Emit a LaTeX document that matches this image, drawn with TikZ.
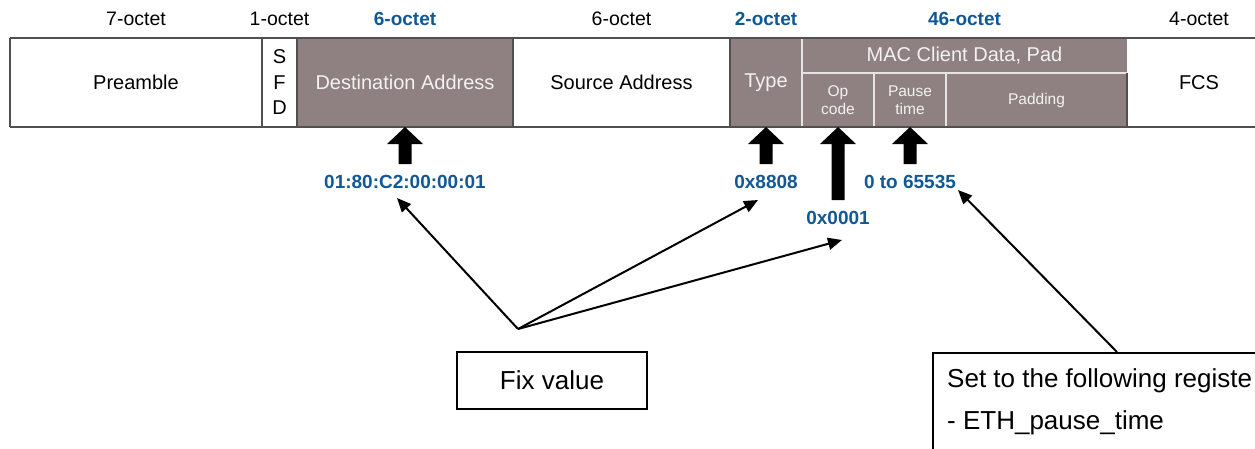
\documentclass[tikz,border=0pt]{standalone}
\usepackage{fontspec}
\setmainfont{Liberation Sans}
\usetikzlibrary{arrows.meta,calc}
\definecolor{pduBrown}{RGB}{143,129,129}
\definecolor{valBlue}{RGB}{17,88,150}
\definecolor{ruleGray}{RGB}{80,80,80}
\definecolor{innerLine}{RGB}{228,228,228}

\begin{document}
\begin{tikzpicture}[x=1pt,y=-1pt,
  cell/.style={inner sep=0pt, outer sep=0pt, anchor=north west,
    font=\fontsize{20}{24}\selectfont, align=center},
  white cell/.style={cell, fill=white},
  brown cell/.style={cell, fill=pduBrown, text=white!95!black},
  small cell/.style={brown cell, font=\fontsize{15.5}{18}\selectfont},
  octet/.style={font=\fontsize{19.5}{23}\selectfont, inner sep=0pt},
  octet hi/.style={font=\bfseries\fontsize{19}{23}\selectfont, text=valBlue, inner sep=0pt},
  val/.style={font=\bfseries\fontsize{19}{23}\selectfont, text=valBlue, inner sep=0pt},
  frame/.style={draw=ruleGray, line width=1.3pt},
  sep/.style={draw=ruleGray, line width=1.1pt},
  divider/.style={draw=innerLine, line width=1.3pt},
  ptr/.style={draw=black, line width=2pt, -{Triangle[length=14pt,width=12pt]}},
  callout/.style={draw=black, line width=1.5pt, fill=white, inner sep=0pt},
  notetext/.style={anchor=base west, inner sep=0pt, font=\fontsize{26}{30}\selectfont},
  pics/blockup/.style={code={
    \fill[black] (0,0) -- (18,17) -- (6.5,17) -- (6.5,#1) -- (-6.5,#1)
      -- (-6.5,17) -- (-18,17) -- cycle;}}
]
\useasboundingbox (0,0) rectangle (1255,448);
\clip (0,0) rectangle (1255,448);

% frame fields
\node[white cell, minimum width=252pt, minimum height=89pt] (pre) at (10,38) {Preamble};
\node[white cell, minimum width=35pt, minimum height=89pt,
  font=\fontsize{20}{25.5}\selectfont] (sfd) at (262,38) {S\\F\\D};
\node[brown cell, minimum width=216pt, minimum height=89pt] (dst) at (297,38) {Destination Address};
\node[white cell, minimum width=217pt, minimum height=89pt] (src) at (513,38) {Source Address};
\node[brown cell, minimum width=72pt, minimum height=89pt] (typ) at (730,38) {Type};
\node[brown cell, minimum width=325pt, minimum height=35pt] (mac) at (802,38) {MAC Client Data, Pad};
\node[small cell, minimum width=72pt, minimum height=54pt] (op) at (802,73) {Op\\code};
\node[small cell, minimum width=72pt, minimum height=54pt] (pause) at (874,73) {Pause\\time};
\node[small cell, minimum width=181pt, minimum height=54pt] (pad) at (946,73) {Padding};
\node[white cell, minimum width=144pt, minimum height=89pt] (fcs) at (1127,38) {FCS};

% light separators inside the MAC client data area
\draw[divider] (typ.north east) -- (typ.south east);
\draw[divider] (mac.south west) -- (mac.south east);
\draw[divider] (op.north east) -- (op.south east);
\draw[divider] (pause.north east) -- (pause.south east);

% outer rules and field borders
\draw[frame] (pre.north west) -- (fcs.north east);
\draw[frame] (pre.south west) -- (fcs.south east);
\draw[sep] (pre.north west) -- (pre.south west);
\draw[sep] (pre.north east) -- (pre.south east);
\draw[sep] (sfd.north east) -- (sfd.south east);
\draw[sep] (dst.north east) -- (dst.south east);
\draw[sep] (src.north east) -- (src.south east);
\draw[sep] (pad.north east) -- (pad.south east);

% field sizes
\node[octet]    (o1) at (pre.north |- 0,19) {7-octet};
\node[octet]    (o2) at (sfd.north |- 0,19) {1-octet};
\node[octet hi] (o3) at (dst.north |- 0,19) {6-octet};
\node[octet]    (o4) at (src.north |- 0,19) {6-octet};
\node[octet hi] (o5) at (typ.north |- 0,19) {2-octet};
\node[octet hi] (o6) at (mac.north |- 0,19) {46-octet};
\node[octet]    (o7) at (fcs.north |- 0,19) {4-octet};

% block arrows and field values
\pic at (dst.south) {blockup=37};
\pic at (typ.south) {blockup=37};
\pic at (op.south) {blockup=73};
\pic at (pause.south) {blockup=37};
\node[val] (dstval)   at (dst.south |- 0,182)   {01:80:C2:00:00:01};
\node[val] (typval)   at (typ.south |- 0,182)   {0x8808};
\node[val] (opval)    at (op.south |- 0,218)    {0x0001};
\node[val] (pauseval) at (pause.south |- 0,182) {0 to 65535};

% callouts
\node[callout, minimum width=190pt, minimum height=57pt,
  font=\fontsize{26}{30}\selectfont] (fix) at (552,380.5) {Fix value};
\node[callout, anchor=north west, minimum width=400pt, minimum height=150pt] (note) at (932,352) {};
\node[notetext] (note1) at (947,387) {Set to the following registe};
\node[notetext] (note2) at (947,429) {- ETH\_pause\_time};

% pointers
\coordinate (hub) at (518,329);
\coordinate (tipDst) at (397,198);
\coordinate (tipTyp) at (758,200);
\coordinate (tipOp) at (842,240);
\coordinate (tipPause) at (958,190);
\coordinate (noteTop) at ($(note.north west)+(185,0)$);
\draw[ptr] (hub) -- (tipDst);
\draw[ptr] (hub) -- (tipTyp);
\draw[ptr] (hub) -- (tipOp);
\draw[ptr] (noteTop) -- (tipPause);
\end{tikzpicture}
\end{document}
